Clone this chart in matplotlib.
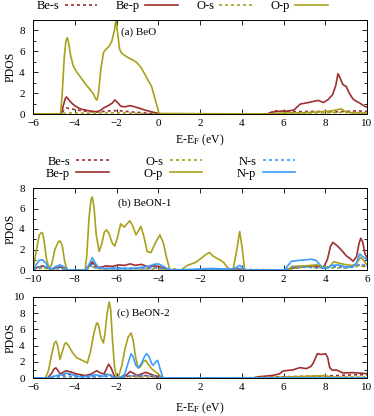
import numpy as np
import matplotlib
matplotlib.use("Agg")
import matplotlib.pyplot as plt
from matplotlib.ticker import MultipleLocator

plt.rcParams['font.family'] = ['Liberation Serif', 'DejaVu Serif']
plt.rcParams['mathtext.fontset'] = 'stix'

# colours for the three atoms
c_be = '#9e2f2f'
c_o = '#a9a11c'
c_n = '#3b9cff'

# ---------------- (a) BeO ----------------
a_bes_E = [-6, -4.65, -4.5, -4.4, -4.2, -3.8, -3.4, -3.0, -2.6, -2.2, -1.8, -1.4, -1.0, -0.5, 0.0,
           5.2, 5.6, 6.5, 7.5, 8.5, 9.5, 10]
a_bes = [0, 0, 0.45, 0.58, 0.5, 0.35, 0.25, 0.18, 0.25, 0.32, 0.3, 0.22, 0.15, 0.08, 0,
         0, 0.3, 0.22, 0.25, 0.2, 0.3, 0.25]

a_bep_E = [-6, -4.65, -4.55, -4.45, -4.39, -4.3, -4.15, -4.0, -3.8, -3.6, -3.3, -3.0, -2.8, -2.6,
           -2.4, -2.2, -2.08, -1.95, -1.8, -1.6, -1.36, -1.15, -0.9, -0.6, -0.3, -0.05, 0.05,
           5.2, 5.5, 5.8, 6.2, 6.5, 6.8, 7.2, 7.65, 7.92, 8.15, 8.35, 8.5, 8.61, 8.72, 8.85,
           9.0, 9.15, 9.33, 9.5, 9.65, 9.85, 10]
a_bep = [0, 0, 0.8, 1.5, 1.63, 1.4, 1.05, 0.8, 0.55, 0.42, 0.3, 0.22, 0.3, 0.6,
         0.8, 1.05, 1.35, 1.1, 0.75, 0.68, 0.8, 0.7, 0.55, 0.35, 0.2, 0.08, 0,
         0, 0.2, 0.25, 0.28, 0.38, 0.95, 1.1, 1.3, 1.1, 1.4, 1.85, 2.7, 3.86, 3.4, 2.8,
         2.65, 2.0, 1.43, 1.2, 1.05, 0.78, 0.65]

a_os_E = [-6, -4.65, -4.4, -3.5, -2.5, -2.0, -1.0, 0.0, 5.2, 6.5, 8.0, 8.7, 10]
a_os = [0, 0, 0.1, 0.08, 0.1, 0.12, 0.05, 0, 0, 0.08, 0.1, 0.15, 0.1]

a_op_E = [-6, -4.68, -4.6, -4.5, -4.42, -4.36, -4.3, -4.2, -4.07, -3.9, -3.75, -3.5, -3.27,
          -3.1, -3.0, -2.93, -2.85, -2.75, -2.62, -2.5, -2.35, -2.22, -2.1, -2.03, -1.95,
          -1.85, -1.75, -1.6, -1.4, -1.2, -1.04, -0.84, -0.64, -0.48, -0.32, -0.16, 0.04,
          5.3, 6.0, 7.0, 7.8, 8.3, 8.6, 8.75, 8.9, 9.2, 10]
a_op = [0, 0, 2.0, 5.5, 7.0, 7.3, 6.9, 5.6, 4.6, 4.0, 3.6, 2.9, 2.35,
        1.9, 1.45, 1.35, 2.2, 4.3, 5.9, 6.2, 6.5, 7.0, 8.0, 9.0, 7.8,
        6.2, 5.8, 5.6, 5.35, 5.15, 4.95, 4.5, 3.8, 3.2, 2.64, 1.5, 0.05,
        0, 0.08, 0.12, 0.22, 0.3, 0.42, 0.5, 0.3, 0.12, 0.08]

# ---------------- (b) BeON-1 ----------------
b_bes_E = [-10, -9.7, -9.5, -9.2, -8.9, -8.7, -8.4, -7.5, -7.3, -7.16, -7.0, -6.5, -5.5,
           -4.5, -4.0, -3.5, -1.0, 0.0, 2.1, 2.5, 3.2, 3.8, 4.4, 5.0, 5.7, 6.0]
b_bes = [0, 0.2, 0.3, 0.1, 0.15, 0.2, 0, 0, 0.3, 0.6, 0.2, 0.15, 0.15,
         0.15, 0.2, 0, 0.02, 0.05, 0, 0.2, 0.3, 0.2, 0.35, 0.25, 0.5, 0.3]

b_bep_E = [-10, -9.8, -9.55, -9.3, -9.1, -8.9, -8.7, -8.5, -8.35, -7.5, -7.3, -7.16, -7.0,
           -6.8, -6.5, -6.2, -5.9, -5.6, -5.35, -5.1, -4.8, -4.5, -4.2, -4.0, -3.7, -3.4,
           -1.5, -0.2, 0.2, 2.1, 2.4, 3.0, 3.4, 3.7, 3.9, 4.1, 4.25, 4.37, 4.55, 4.77, 5.0,
           5.2, 5.33, 5.5, 5.62, 5.7, 5.8, 5.9, 6.0]
b_bep = [0, 0.25, 0.4, 0.2, 0.05, 0.2, 0.3, 0.15, 0, 0, 0.4, 0.8, 0.4,
         0.25, 0.4, 0.35, 0.5, 0.45, 0.6, 0.45, 0.55, 0.3, 0.4, 0.35, 0.15, 0,
         0.05, 0.1, 0, 0, 0.2, 0.35, 0.4, 0.35, 0.2, 1.0, 2.3, 2.7, 2.4, 1.96, 1.4,
         1.1, 0.85, 1.3, 2.6, 3.1, 2.7, 1.6, 1.2]

b_os_E = [-10, -9.7, -9.5, -9.2, -8.7, -8.4, -7.5, -7.16, -6.8, -5.5, -4.0, -3.5, 2.1, 3.0,
          4.0, 5.0, 5.7, 6.0]
b_os = [0, 0.15, 0.2, 0.05, 0.15, 0, 0, 0.3, 0.1, 0.1, 0.1, 0, 0, 0.3, 0.2, 0.2, 0.4, 0.25]

b_op_E = [-10, -9.85, -9.7, -9.6, -9.54, -9.45, -9.35, -9.22, -9.1, -8.95, -8.8, -8.71, -8.6,
          -8.48, -8.36, -7.5, -7.42, -7.32, -7.22, -7.16, -7.08, -6.97, -6.83, -6.7, -6.58,
          -6.47, -6.35, -6.2, -6.08, -5.95, -5.8, -5.63, -5.5, -5.36, -5.22, -5.07, -4.95,
          -4.83, -4.68, -4.53, -4.35, -4.15, -3.92, -3.75, -3.6, -3.44, -3.3, -3.2, -3.1,
          -2.9, -2.6, -2.2, -1.9, -1.7, -1.53, -1.4, -1.2, -1.05, -0.85, -0.7, -0.55, -0.4,
          -0.25, -0.1, 0.02, 0.14, 2.2, 2.4, 3.0, 3.6, 3.9, 4.2, 4.4, 4.8, 5.2, 5.45, 5.7,
          5.85, 6.0]
b_op = [0, 1.8, 3.4, 3.66, 3.6, 2.6, 1.0, 0.1, 0.6, 2.0, 2.7, 2.84, 2.4,
        0.8, 0, 0, 1.5, 5.0, 6.9, 7.12, 6.2, 3.4, 1.8, 2.6, 3.7,
        3.92, 3.5, 2.6, 2.35, 3.2, 4.5, 4.18, 4.5, 4.8, 4.3, 3.43, 3.8,
        4.25, 3.2, 1.8, 1.7, 2.6, 3.43, 2.6, 1.2, 0, 0.05, 0.12, 0.02,
        0.0, 0.45, 0.75, 1.2, 1.55, 1.7, 1.4, 1.15, 1.0, 0.7, 0.3, 0.0, 0.2,
        1.8, 3.76, 2.2, 0, 0, 0.35, 0.4, 0.5, 0.3, 0.3, 0.8, 0.6, 0.45, 0.5, 1.25,
        0.9, 0.5]

b_ns_E = [-10, -9.7, -9.5, -9.2, -8.9, -8.7, -8.4, -7.5, -7.3, -7.16, -7.0, -6.5, -5.5,
          -4.5, -4.0, -3.5, -1.0, -0.1, 0.2, 2.1, 2.4, 3.0, 3.8, 4.5, 5.2, 5.7, 6.0]
b_ns = [0, 0.3, 0.4, 0.1, 0.15, 0.2, 0, 0, 0.3, 0.5, 0.2, 0.1, 0.1,
        0.15, 0.2, 0, 0.05, 0.15, 0, 0, 0.25, 0.3, 0.15, 0.3, 0.2, 0.6, 0.4]

b_np_E = [-10, -9.85, -9.7, -9.55, -9.4, -9.25, -9.1, -8.9, -8.7, -8.5, -8.35, -7.5, -7.35,
          -7.16, -7.0, -6.85, -6.5, -6.0, -5.5, -5.0, -4.5, -4.2, -4.0, -3.8, -3.55, -3.4,
          -2.5, -1.5, -0.8, -0.5, -0.3, -0.1, 0.05, 0.2, 2.05, 2.2, 2.38, 2.8, 3.34, 3.55,
          3.75, 3.9, 4.1, 4.3, 4.6, 5.0, 5.3, 5.5, 5.65, 5.8, 6.0]
b_np = [0, 0.5, 0.95, 1.0, 0.7, 0.2, 0.1, 0.35, 0.5, 0.3, 0, 0, 0.4,
        1.2, 0.6, 0.2, 0.15, 0.2, 0.15, 0.2, 0.35, 0.55, 0.6, 0.4, 0.1, 0,
        0.05, 0.15, 0.1, 0.05, 0.2, 0.45, 0.2, 0, 0, 0.4, 0.85, 0.95, 1.05, 0.95,
        0.5, 0.15, 0.2, 0.45, 0.5, 0.3, 0.3, 0.7, 1.57, 1.3, 1.0]

# ---------------- (c) BeON-2 ----------------
c_bes_E = [-6, -5.3, -4.9, -4.7, -4.4, -4.0, -3.2, -2.7, -2.4, -2.0, -1.6, -1.3, -1.0, -0.6,
           -0.2, 0.2, 4.5, 5.0, 6.0, 7.0, 8.0, 8.5, 9.0, 9.5, 10]
c_bes = [0, 0, 0.3, 0.2, 0.5, 0.3, 0.2, 0.25, 0.5, 0, 0.1, 0.3, 0.15, 0.3,
         0.15, 0, 0, 0.1, 0.15, 0.2, 0.25, 0.3, 0.35, 0.4, 0.4]

c_bep_E = [-6, -5.3, -5.1, -4.98, -4.9, -4.8, -4.7, -4.55, -4.42, -4.2, -3.9, -3.5, -3.2,
           -2.95, -2.75, -2.6, -2.45, -2.38, -2.25, -2.1, -1.95, -1.7, -1.5, -1.35, -1.2,
           -1.0, -0.8, -0.6, -0.4, -0.2, 0.0, 0.2, 4.5, 4.8, 5.2, 5.5, 5.8, 5.98, 6.45,
           6.78, 7.1, 7.3, 7.41, 7.52, 7.62, 7.81, 8.02, 8.12, 8.21, 8.34, 8.53, 8.7, 8.85,
           9.33, 9.97, 10]
c_bep = [0, 0, 0.6, 1.15, 1.24, 0.9, 0.5, 0.7, 0.9, 0.75, 0.5, 0.3, 0.5,
         0.9, 0.6, 0.5, 1.3, 1.7, 1.2, 0.2, 0, 0.1, 0.4, 0.8, 0.6,
         0.3, 0.5, 0.7, 0.5, 0.3, 0.2, 0, 0, 0.15, 0.25, 0.33, 0.5, 0.87, 1.0,
         1.28, 1.16, 1.4, 1.77, 2.4, 3.0, 2.9, 3.0, 2.5, 1.3, 0.95, 1.0, 0.8, 0.62,
         0.66, 0.54, 0.52]

c_os_E = [-6, -5.3, -4.9, -4.4, -3.5, -2.9, -2.4, -2.0, -1.3, -0.6, 0.2, 5.0, 7.0, 9.0, 10]
c_os = [0, 0, 0.2, 0.15, 0.1, 0.15, 0.2, 0, 0.15, 0.1, 0, 0.05, 0.08, 0.1, 0.1]

c_op_E = [-6, -5.4, -5.25, -5.1, -4.98, -4.9, -4.82, -4.71, -4.6, -4.5, -4.42, -4.3, -4.1,
          -3.91, -3.7, -3.5, -3.4, -3.25, -3.1, -2.98, -2.92, -2.85, -2.75, -2.63, -2.55,
          -2.45, -2.35, -2.28, -2.2, -2.1, -2.0, -1.9, -1.75, -1.6, -1.45, -1.3, -1.2,
          -1.08, -0.96, -0.85, -0.72, -0.6, -0.45, -0.3, -0.15, 0.0, 0.12, 0.25, 4.5,
          6.0, 7.0, 8.0, 8.3, 10]
c_op = [0, 0, 1.0, 3.0, 4.3, 4.53, 4.0, 2.3, 3.2, 4.1, 4.37, 4.0, 3.1,
        2.5, 2.25, 2.0, 1.85, 3.2, 5.3, 6.6, 6.83, 6.4, 5.0, 4.32, 5.5,
        8.0, 9.38, 8.5, 5.0, 1.5, 0.1, 0.2, 1.5, 3.5, 5.0, 5.56, 4.6,
        2.5, 1.24, 1.4, 2.0, 2.18, 1.6, 1.1, 0.8, 0.5, 0.2, 0, 0,
        0.1, 0.2, 0.3, 0.1, 0.05]

c_ns_E = [-6, -5.3, -4.9, -4.4, -3.5, -3.0, -2.4, -2.0, -1.3, -0.6, 0.0, 0.25, 10]
c_ns = [0, 0, 0.1, 0.2, 0.1, 0.15, 0.2, 0, 0.3, 0.3, 0.2, 0, 0]

c_np_E = [-6, -5.3, -5.0, -4.8, -4.6, -4.4, -4.2, -4.0, -3.7, -3.4, -3.2, -3.0, -2.8, -2.6,
          -2.45, -2.3, -2.1, -2.0, -1.8, -1.6, -1.45, -1.3, -1.2, -1.08, -0.96, -0.8, -0.65,
          -0.56, -0.45, -0.3, -0.24, -0.12, -0.03, 0.08, 0.23, 10]
c_np = [0, 0, 0.2, 0.35, 0.4, 0.6, 0.5, 0.3, 0.15, 0.2, 0.3, 0.4, 0.3, 0.2,
        0.5, 0.3, 0.05, 0, 0.1, 0.5, 1.8, 3.0, 2.6, 1.6, 1.24, 1.8, 2.7,
        3.0, 2.7, 1.7, 1.57, 2.0, 2.18, 1.2, 0, 0]

lw = 1.2
dot = (0, (1.8, 1.8))

fig = plt.figure(figsize=(3.74, 4.16), dpi=100)
W, H = 374.0, 416.0
ax_a = fig.add_axes([33 / W, 1 - 114 / H, 334 / W, 94 / H])
ax_b = fig.add_axes([33 / W, 1 - 270 / H, 334 / W, 82 / H])
ax_c = fig.add_axes([33 / W, 1 - 378 / H, 334 / W, 81 / H])

# panel a
ax_a.plot(a_bes_E, a_bes, color=c_be, lw=lw, ls=dot, label='Be-s')
ax_a.plot(a_bep_E, a_bep, color=c_be, lw=lw, label='Be-p')
ax_a.plot(a_os_E, a_os, color=c_o, lw=lw, ls=dot, label='O-s')
ax_a.plot(a_op_E, a_op, color=c_o, lw=lw, label='O-p')
ax_a.set_xlim(-6, 10)
ax_a.set_ylim(0, 9)
ax_a.set_yticks([0, 2, 4, 6, 8])
ax_a.text(-1.78, 7.8, '(a) BeO', fontsize=8, va='center')

# panel b
ax_b.plot(b_bes_E, b_bes, color=c_be, lw=lw, ls=dot, label='Be-s')
ax_b.plot(b_bep_E, b_bep, color=c_be, lw=lw, label='Be-p')
ax_b.plot(b_os_E, b_os, color=c_o, lw=lw, ls=dot, label='O-s')
ax_b.plot(b_op_E, b_op, color=c_o, lw=lw, label='O-p')
ax_b.plot(b_ns_E, b_ns, color=c_n, lw=lw, ls=dot, label='N-s')
ax_b.plot(b_np_E, b_np, color=c_n, lw=lw, label='N-p')
ax_b.set_xlim(-10, 6)
ax_b.set_ylim(0, 8)
ax_b.set_yticks([0, 2, 4, 6, 8])
ax_b.text(-5.95, 6.5, '(b) BeON-1', fontsize=8, va='center')

# panel c
ax_c.plot(c_bes_E, c_bes, color=c_be, lw=lw, ls=dot)
ax_c.plot(c_bep_E, c_bep, color=c_be, lw=lw)
ax_c.plot(c_os_E, c_os, color=c_o, lw=lw, ls=dot)
ax_c.plot(c_op_E, c_op, color=c_o, lw=lw)
ax_c.plot(c_ns_E, c_ns, color=c_n, lw=lw, ls=dot)
ax_c.plot(c_np_E, c_np, color=c_n, lw=lw)
ax_c.set_xlim(-6, 10)
ax_c.set_ylim(0, 10)
ax_c.set_yticks([0, 2, 4, 6, 8, 10])
ax_c.text(-1.98, 7.95, '(c) BeON-2', fontsize=8, va='center')

for ax in (ax_a, ax_b, ax_c):
    ax.xaxis.set_major_locator(MultipleLocator(2))
    ax.yaxis.set_minor_locator(MultipleLocator(1))
    ax.tick_params(which='both', direction='in', top=True, right=True, labelsize=8, width=0.6)
    ax.tick_params(which='major', length=3.5)
    ax.tick_params(which='minor', length=2)
    ax.tick_params(axis='y', pad=6)
    ax.tick_params(axis='x', pad=3.5)
    for s in ax.spines.values():
        s.set_linewidth(0.7)
    ax.set_ylabel('PDOS', fontsize=8.5)
    # label's right edge sits about 16 px from the left border
    ax.yaxis.set_label_coords(-0.05, 0.5)

ax_a.set_xlabel(r'E-E$_\mathrm{F}$ (eV)', fontsize=8.5)
ax_a.xaxis.set_label_coords(0.5, -0.2)
ax_c.set_xlabel(r'E-E$_\mathrm{F}$ (eV)', fontsize=8.5)
ax_c.xaxis.set_label_coords(0.5, -0.28)

# legends: text first, then line sample (gnuplot style)
h, l = ax_a.get_legend_handles_labels()
fig.legend(h, l, loc='center left', bbox_to_anchor=(37 / W, 1 - 6 / H), ncol=4,
           frameon=False, markerfirst=False, fontsize=9, handlelength=2.6,
           handletextpad=0.4, columnspacing=1.5, borderpad=0, borderaxespad=0)

h, l = ax_b.get_legend_handles_labels()
fig.legend(h, l, loc='center left', bbox_to_anchor=(46 / W, 1 - 167.5 / H), ncol=3,
           frameon=False, markerfirst=False, fontsize=9, handlelength=2.6,
           handletextpad=0.5, columnspacing=2.8, labelspacing=0.0,
           borderpad=0, borderaxespad=0)

fig.savefig('out.png', dpi=100)
